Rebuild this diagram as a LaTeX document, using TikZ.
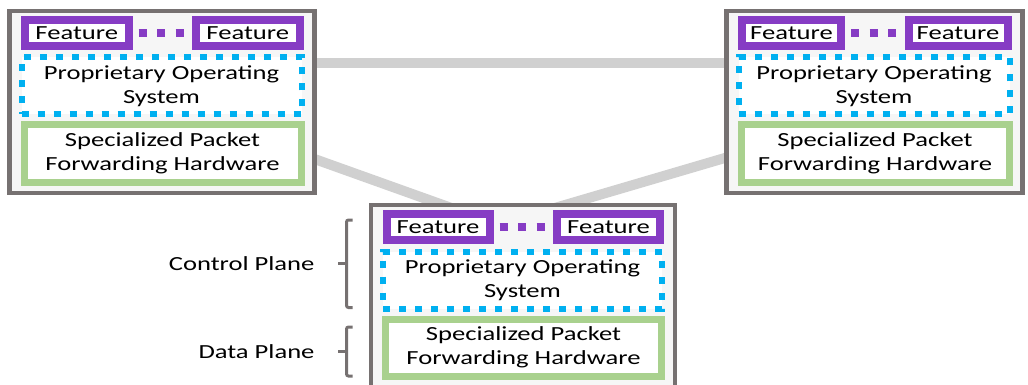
\documentclass[tikz,border=0pt]{standalone}
\usepackage{fontspec}
\setmainfont{Carlito}[FakeStretch=1.33]
\usetikzlibrary{positioning, backgrounds}
\definecolor{chassisgray}{RGB}{118,113,113}
\definecolor{chassisfill}{RGB}{246,246,246}
\definecolor{linkgray}{RGB}{208,208,208}
\definecolor{featpurple}{RGB}{134,60,196}
\definecolor{osblue}{RGB}{0,176,240}
\definecolor{hwgreen}{RGB}{169,209,142}
\newcommand\diagfont{\fontsize{20}{24}\selectfont}

% one switch: name, left x, top y, width
\newcommand\switchbox[4]{%
  \pgfmathsetmacro\featw{(#4-98)/2}
  \pgfmathsetmacro\osw{#4-25}
  \pgfmathsetmacro\hww{#4-28}
  \node[chassis, minimum width=#4pt] (#1) at (#2,#3) {};
  \node[feat, minimum width=\featw pt, anchor=north west] (#1-f1) at ([xshift=15.5pt,yshift=-9pt]#1.north west) {Feature};
  \node[feat, minimum width=\featw pt, anchor=north east] (#1-f2) at ([xshift=-15pt,yshift=-9pt]#1.north east) {Feature};
  \draw[featdots] ([xshift=10pt]#1-f1.east) -- ([xshift=-12pt]#1-f2.west);
  \node[osbox, minimum width=\osw pt, anchor=north west] (#1-os) at ([xshift=12pt,yshift=-46.5pt]#1.north west) {Proprietary Operating\\System};
  \node[hwbox, minimum width=\hww pt, anchor=north west] (#1-hw) at ([xshift=14.5pt,yshift=-114pt]#1.north west) {Specialized Packet\\Forwarding Hardware};
}

\tikzset{
  every node/.style={outer sep=0pt, inner sep=0pt},
  chassis/.style={draw=chassisgray, line width=4.5pt, fill=chassisfill, minimum height=182pt, anchor=north west},
  feat/.style={draw=featpurple, line width=8pt, fill=white, minimum height=26pt, font=\diagfont},
  osbox/.style={draw=osblue, line width=6pt, dash pattern=on 7pt off 9pt, fill=white, minimum height=57pt, align=center, font=\diagfont},
  hwbox/.style={draw=hwgreen, line width=7pt, fill=white, minimum height=57pt, align=center, font=\diagfont},
  featdots/.style={featpurple, line width=8pt, dash pattern=on 8pt off 10.5pt},
  link/.style={linkgray, line width=10pt},
  bracket/.style={chassisgray, line width=3pt, rounded corners=2pt},
  plane/.style={font=\diagfont}
}

\begin{document}
\begin{tikzpicture}[x=1pt, y=-1pt]
  \useasboundingbox (0,0) rectangle (1028,385);

  \switchbox{a}{9.5}{11}{305}
  \switchbox{b}{726.5}{11}{296}
  \switchbox{c}{371}{205}{304}

  % grey links behind the switches
  \begin{scope}[on background layer]
    \draw[link] ([yshift=39pt]a.east) -- ([yshift=39pt]a.east -| b.west);
    \draw[link] ([yshift=-57pt]a.east) -- ([xshift=-52pt,yshift=-10pt]c.north);
    \draw[link] ([yshift=-55.5pt]b.west) -- ([xshift=8pt,yshift=-10pt]c.north);
  \end{scope}

  % control plane bracket
  \path (c.west |- c-f1.north) ++(-24.5,6) coordinate (cp-a);
  \path (c.west |- c-os.south) ++(-24.5,-1) coordinate (cp-b);
  \draw[bracket] ([xshift=6pt]cp-a) -- (cp-a) -- coordinate[midway] (cp-m) (cp-b) -- ([xshift=6pt]cp-b);
  \draw[bracket] (cp-m) -- ++(-9,0);
  \node[plane, left=32pt of cp-m] (cp-label) {Control Plane};

  % data plane bracket
  \path (c.west |- c-hw.north) ++(-24.5,8) coordinate (dp-a);
  \path (c.west |- c-hw.south) ++(-24.5,0) coordinate (dp-b);
  \draw[bracket] ([xshift=6pt]dp-a) -- (dp-a) -- coordinate[midway] (dp-m) (dp-b) -- ([xshift=6pt]dp-b);
  \draw[bracket] (dp-m) -- ++(-9,0);
  \node[plane, left=32pt of dp-m] (dp-label) {Data Plane};
\end{tikzpicture}
\end{document}
